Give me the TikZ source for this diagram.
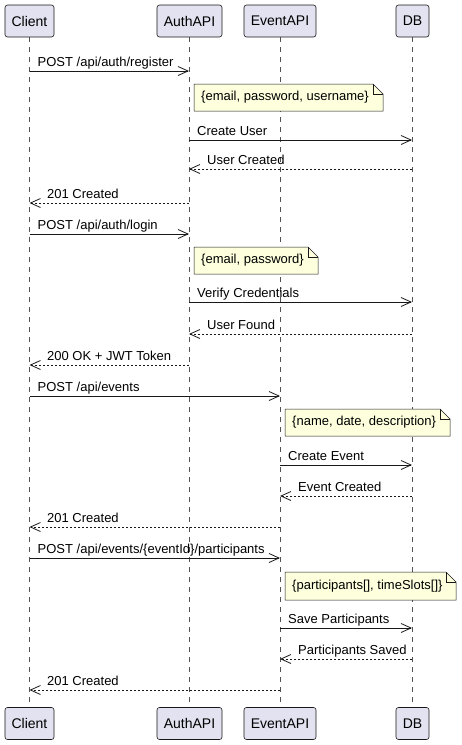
\documentclass[tikz,border=0pt]{standalone}
\usepackage{fontspec}
\setmainfont{Liberation Sans}
\usetikzlibrary{arrows.meta}
\definecolor{partfill}{HTML}{E2E2F0}
\definecolor{edge}{HTML}{181818}
\definecolor{notefill}{HTML}{FEFFDD}
\tikzset{
  partbox/.style={draw=edge, fill=partfill, line width=0.6pt, rounded corners=2.5pt, inner sep=0pt, font=\fontsize{14}{16}\selectfont},
  lifeline/.style={draw=edge!75, line width=0.5pt, dash pattern=on 5pt off 5pt},
  msgsync/.style={draw=edge, line width=0.8pt, -{Straight Barb[length=10pt,width=9pt,line width=0.8pt]}},
  msgreply/.style={msgsync, dash pattern=on 2pt off 2pt},
  msglabel/.style={font=\fontsize{13}{15}\selectfont, inner sep=0pt, anchor=base west},
  notebox/.style={draw=edge, fill=notefill, line width=0.5pt},
  notetext/.style={font=\fontsize{13}{15}\selectfont, inner sep=0pt, anchor=west},
}
% #1 name, #2 from x, #3 to x, #4 y, #5 style, #6 label x, #7 label
\newcommand\seqmsg[7]{%
  \coordinate (#1a) at (#2,#4);
  \coordinate (#1b) at (#3,#4);
  \draw[#5] (#1a) -- (#1b);
  \node[msglabel] (#1t) at (#6,#4-5) {#7};
}
% #1 name, #2 x1, #3 y1, #4 x2, #5 y2, #6 text
\newcommand\seqnote[6]{%
  \draw[notebox] (#2,#3) -- (#4-10,#3) -- (#4,#3+10) -- (#4,#5) -- (#2,#5) -- cycle;
  \draw[notebox, fill=none] (#4-10,#3) -- (#4-10,#3+10) -- (#4,#3+10);
  \node[notetext] (#1) at (#2+7,{(#3+#5)/2}) {#6};
}
\begin{document}
\begin{tikzpicture}[x=1pt,y=-1pt]
\useasboundingbox (0,0) rectangle (462,745);
% lifelines
\coordinate (lct) at (29.5,37); \coordinate (lcb) at (29.5,707);
\coordinate (lat) at (189,37);  \coordinate (lab) at (189,707);
\coordinate (let) at (280,37);  \coordinate (leb) at (280,707);
\coordinate (ldt) at (412,37);  \coordinate (ldb) at (412,707);
\draw[lifeline] (lct) -- (lcb);
\draw[lifeline] (lat) -- (lab);
\draw[lifeline] (let) -- (leb);
\draw[lifeline] (ldt) -- (ldb);
% participants
\node[partbox, minimum width=49pt, minimum height=32pt] (client) at (29.5,21) {Client};
\node[partbox, minimum width=65pt, minimum height=32pt] (auth) at (189.5,21) {AuthAPI};
\node[partbox, minimum width=72pt, minimum height=32pt] (event) at (280,21) {EventAPI};
\node[partbox, minimum width=33pt, minimum height=32pt] (db) at (412.5,21) {DB};
\node[partbox, minimum width=49pt, minimum height=32pt] (client2) at (29.5,723.5) {Client};
\node[partbox, minimum width=65pt, minimum height=32pt] (auth2) at (189.5,723.5) {AuthAPI};
\node[partbox, minimum width=72pt, minimum height=32pt] (event2) at (280,723.5) {EventAPI};
\node[partbox, minimum width=33pt, minimum height=32pt] (db2) at (412.5,723.5) {DB};
% messages
\seqmsg{m1}{29.5}{189}{71}{msgsync}{37.5}{POST /api/auth/register}
\seqnote{n1}{194}{84}{383}{111}{\{email, password, username\}}
\seqmsg{m2}{189}{412}{140}{msgsync}{197}{Create User}
\seqmsg{m3}{412}{189}{169}{msgreply}{207}{User Created}
\seqmsg{m4}{189}{29.5}{203}{msgreply}{47}{201 Created}
\seqmsg{m5}{29.5}{189}{234}{msgsync}{37.5}{POST /api/auth/login}
\seqnote{n2}{194}{247}{318}{274}{\{email, password\}}
\seqmsg{m6}{189}{412}{302}{msgsync}{197}{Verify Credentials}
\seqmsg{m7}{412}{189}{334}{msgreply}{207}{User Found}
\seqmsg{m8}{189}{29.5}{365}{msgreply}{47}{200 OK + JWT Token}
\seqmsg{m9}{29.5}{280}{396}{msgsync}{37.5}{POST /api/events}
\seqnote{n3}{285}{409}{450}{436}{\{name, date, description\}}
\seqmsg{m10}{280}{412}{465}{msgsync}{288}{Create Event}
\seqmsg{m11}{412}{280}{496}{msgreply}{298}{Event Created}
\seqmsg{m12}{280}{29.5}{527}{msgreply}{47}{201 Created}
\seqmsg{m13}{29.5}{280}{558}{msgsync}{37.5}{POST /api/events/\{eventId\}/participants}
\seqnote{n4}{285}{572}{456}{600}{\{participants[], timeSlots[]\}}
\seqmsg{m14}{280}{412}{628}{msgsync}{288}{Save Participants}
\seqmsg{m15}{412}{280}{659}{msgreply}{298}{Participants Saved}
\seqmsg{m16}{280}{29.5}{690}{msgreply}{47}{201 Created}
\end{tikzpicture}
\end{document}
